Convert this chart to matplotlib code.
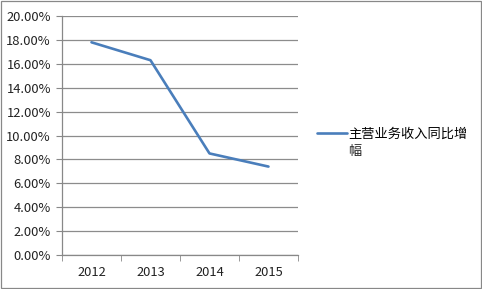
import matplotlib.pyplot as plt
from matplotlib.patches import Rectangle

plt.rcParams['font.family'] = ['Noto Sans CJK SC', 'DejaVu Sans']

years = ['2012', '2013', '2014', '2015']
growth = [17.8, 16.3, 8.5, 7.4]
series_name = '主营业务收入同比增'
series_name_wrap = '幅'

fig = plt.figure(figsize=(4.82, 2.89), dpi=100)
ax = fig.add_axes([0.1286, 0.1176, 0.4896, 0.827])

x = range(len(years))
ax.plot(x, growth, color='#4a7ebb', lw=1.9, label=series_name, solid_capstyle='round')

ax.set_xlim(-0.5, len(years) - 0.5)
ax.set_ylim(0, 20)
ax.set_yticks(range(0, 21, 2))
ax.set_yticklabels(['{:.2f}%'.format(v) for v in range(0, 21, 2)])
ax.set_xticks(list(x))
ax.set_xticklabels(years)
ax.set_xticks([i - 0.5 for i in range(len(years) + 1)], minor=True)
ax.tick_params(axis='x', which='major', length=0, pad=8)
ax.tick_params(axis='x', which='minor', length=4, color='#888888', direction='out')
ax.tick_params(axis='y', length=4, color='#888888', pad=4)
ax.tick_params(labelsize=9.3, labelcolor='#222222')
ax.grid(axis='y', color='#8c8c8c', lw=0.9)
ax.set_axisbelow(True)
for s in ['top', 'right']:
    ax.spines[s].set_visible(False)
for s in ['left', 'bottom']:
    ax.spines[s].set_color('#888888')
    ax.spines[s].set_linewidth(0.9)

fig.legend(loc='center left', bbox_to_anchor=(0.645, 0.535), frameon=False,
           fontsize=9.5, handlelength=2.2, handletextpad=0.15, borderpad=0)
fig.text(0.722, 0.475, series_name_wrap, fontsize=9.5, color='#222222', va='center')

fig.patches.append(Rectangle((0.002, 0.003), 0.995, 0.993, transform=fig.transFigure,
                             fill=False, edgecolor='#888888', lw=0.9))

fig.savefig('out.png', dpi=100)
